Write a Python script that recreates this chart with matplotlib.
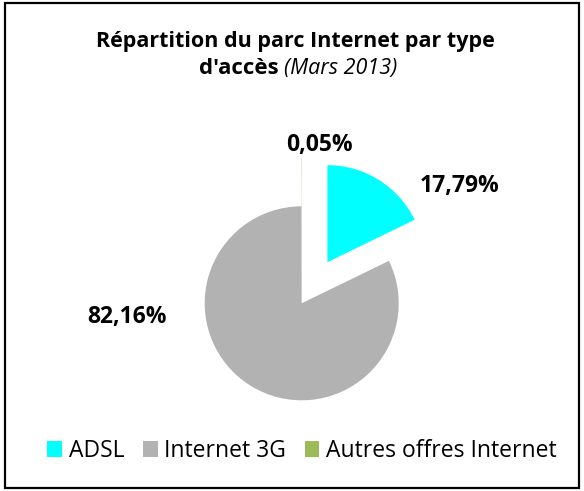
import matplotlib
matplotlib.use("Agg")
import matplotlib.pyplot as plt
from matplotlib.patches import Patch, Rectangle

plt.rcParams['font.family'] = ['Open Sans', 'DejaVu Sans']

# data (Mars 2013)
categories = ["ADSL", "Internet 3G", "Autres offres Internet"]
shares = [17.79, 82.16, 0.05]
colors = ["#00FFFF", "#B2B2B2", "#9BBB59"]
explode = [0.5, 0.0, 0.5]
# label spots in pie units (radius = 1), placed like the Excel chart
label_pos = [(1.632, 1.209), (-1.80, -0.14), (0.186, 1.63)]

W, H = 584, 491
fig = plt.figure(figsize=(W / 100, H / 100), dpi=100)
fig.patch.set_facecolor("white")

# black frame round the whole chart
fig.add_artist(Rectangle((5 / W, 3 / H), 574 / W, 485 / H, transform=fig.transFigure,
                         fill=False, edgecolor="black", linewidth=1.6))

cx, cy, r = 301.7, 303.3, 97.0
ax = fig.add_axes([(cx - r) / W, (H - cy - r) / H, 2 * r / W, 2 * r / H])


def fmt(p):
    return ("%.2f" % p).replace(".", ",") + "%"


wedges, texts, autotexts = ax.pie(shares, colors=colors, explode=explode, startangle=90,
                                  counterclock=False, autopct=fmt,
                                  wedgeprops={"linewidth": 0, "clip_on": False})
for t, pos in zip(autotexts, label_pos):
    t.set_position(pos)
    t.set_fontsize(16.5)
    t.set_fontweight("bold")
    t.set_color("black")
    t.set_clip_on(False)
ax.set_xlim(-1, 1)
ax.set_ylim(-1, 1)
ax.set_aspect("equal")
ax.axis("off")

# title: first line bold, second line bold + italic
fig.text(295.5 / W, 1 - 47.3 / H, "Répartition du parc Internet par type", ha="center", va="baseline",
         fontsize=15.5, fontweight="bold")
t1 = fig.text(0, 1 - 74 / H, "d'accès ", ha="left", va="baseline", fontsize=16, fontweight="bold")
t2 = fig.text(0, 1 - 74 / H, "(Mars 2013)", ha="left", va="baseline", fontsize=15.5, style="italic")
fig.canvas.draw()
rend = fig.canvas.get_renderer()
w1 = t1.get_window_extent(rend).width
w2 = t2.get_window_extent(rend).width
x0 = 298 - (w1 + w2) / 2
t1.set_x(x0 / W)
t2.set_x((x0 + w1) / W)

handles = [Patch(facecolor=c, edgecolor="none") for c in colors]
fig.legend(handles, categories, loc="center", bbox_to_anchor=(302 / W, 1 - 451 / H), ncol=3,
           frameon=False, fontsize=16.5, handlelength=0.65, handleheight=0.65,
           handletextpad=0.3, columnspacing=0.8)

fig.savefig("out.png", dpi=100)
